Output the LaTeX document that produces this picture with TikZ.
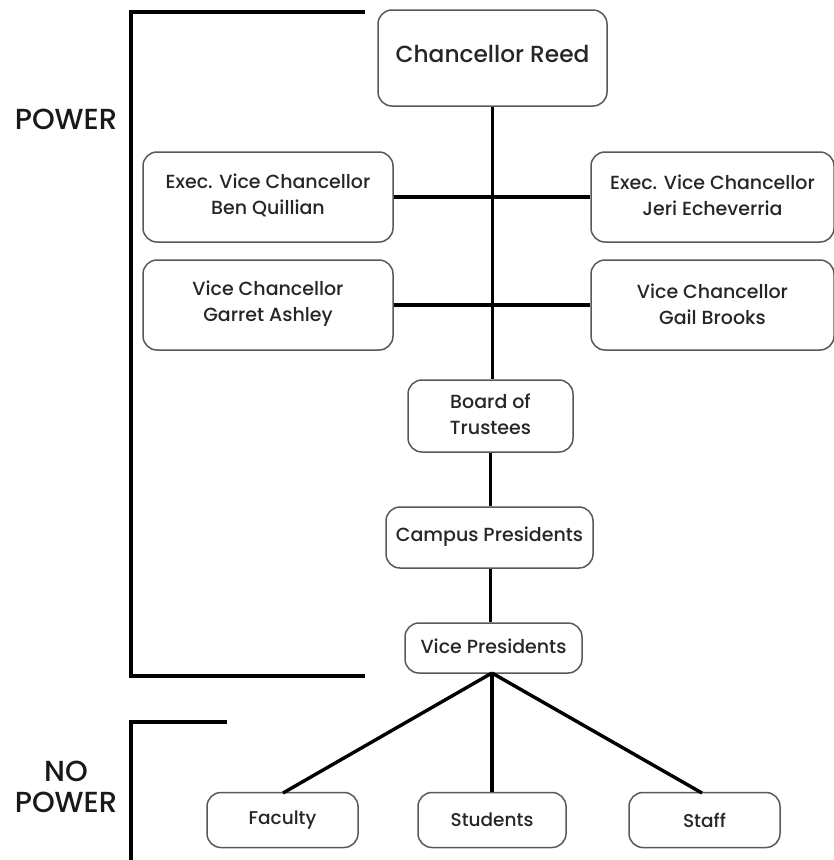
\documentclass[tikz,border=0pt]{standalone}
\usepackage{fontspec}
\setmainfont{Poppins}[UprightFont=* Medium]
\begin{document}
\begin{tikzpicture}[x=1pt,y=-1pt,
  box/.style={draw=black!65, line width=1.5pt, rounded corners=14pt, inner sep=0pt, fill=white},
  conn/.style={line width=3.4pt, black},
  brk/.style={line width=3.4pt, black},
  big/.style={font=\fontsize{23.3}{28}\selectfont, text=black!85, align=center, inner sep=0pt},
  txt/.style={font=\fontsize{19}{26}\selectfont, text=black!85, align=center, inner sep=0pt},
  sml/.style={font=\fontsize{18.5}{22}\selectfont, text=black!85, align=center, inner sep=0pt},
  side/.style={font=\fontsize{29}{31}\selectfont, text=black!90, align=center, inner sep=0pt}
]
\useasboundingbox (0,0) rectangle (834,860);
% boxes
\node[box, minimum width=229pt, minimum height=96pt] (cr) at (492.5,58) {};
\node[box, minimum width=250pt, minimum height=90pt] (bq) at (268,197) {};
\node[box, minimum width=250pt, minimum height=90pt] (ga) at (268,305) {};
\node[box, minimum width=243pt, minimum height=90pt] (je) at (712.5,197) {};
\node[box, minimum width=243pt, minimum height=90pt] (gb) at (712.5,305) {};
\node[box, minimum width=165pt, minimum height=72pt] (bt) at (490.5,416) {};
\node[box, minimum width=207pt, minimum height=61pt] (cp) at (489.5,537.5) {};
\node[box, minimum width=177pt, minimum height=50pt] (vp) at (493.5,648) {};
\node[box, minimum width=151pt, minimum height=55pt] (fa) at (282.5,820) {};
\node[box, minimum width=148pt, minimum height=55pt] (st) at (492,820) {};
\node[box, minimum width=151pt, minimum height=55pt] (sf) at (704.5,820) {};
% texts
\node[big] (tcr) at (492.5,54) {Chancellor Reed};
\node[txt] (tbq) at (268,195) {Exec. Vice Chancellor\\Ben Quillian};
\node[txt] (tga) at (268,304) {Vice Chancellor\\Garret Ashley};
\node[txt] (tje) at (712.5,195) {Exec. Vice Chancellor\\Jeri Echeverria};
\node[txt] (tgb) at (712.5,304) {Vice Chancellor\\Gail Brooks};
\node[txt] (tbt) at (490.5,414) {Board of\\Trustees};
\node[txt] (tcp) at (489.5,537) {Campus Presidents};
\node[txt] (tvp) at (493.5,646) {Vice Presidents};
\node[sml] (tfa) at (282.5,820) {Faculty};
\node[sml] (tst) at (492,820) {Students};
\node[sml] (tsf) at (704.5,820) {Staff};
% connectors
\draw[conn] (cr.south) -- (cr.south |- bt.north);
\draw[conn] (bq.east) -- (je.west);
\draw[conn] (ga.east) -- (gb.west);
\draw[conn] (bt.south) -- (bt.south |- cp.north);
\draw[conn] (bt.south |- cp.south) -- (bt.south |- vp.north);
\coordinate (vb) at (492,673);
\coordinate (fat) at (283,793);
\coordinate (sft) at (702,793);
\draw[conn] (vb) -- (fat);
\draw[conn] (vb) -- (vb |- st.north);
\draw[conn] (vb) -- (sft);
% brackets
\coordinate (p1) at (365,12);
\coordinate (p2) at (131,12);
\coordinate (p3) at (131,676);
\coordinate (p4) at (365,676);
\draw[brk, line join=miter] (p1) -- (p2) -- (p3) -- (p4);
\coordinate (n1) at (227,722);
\coordinate (n2) at (131,722);
\coordinate (n3) at (131,862);
\draw[brk, line join=miter] (n1) -- (n2) -- (n3);
\node[side] (pw) at (66,119) {POWER};
\node[side] (np) at (66,787) {NO\\POWER};
\end{tikzpicture}
\end{document}
